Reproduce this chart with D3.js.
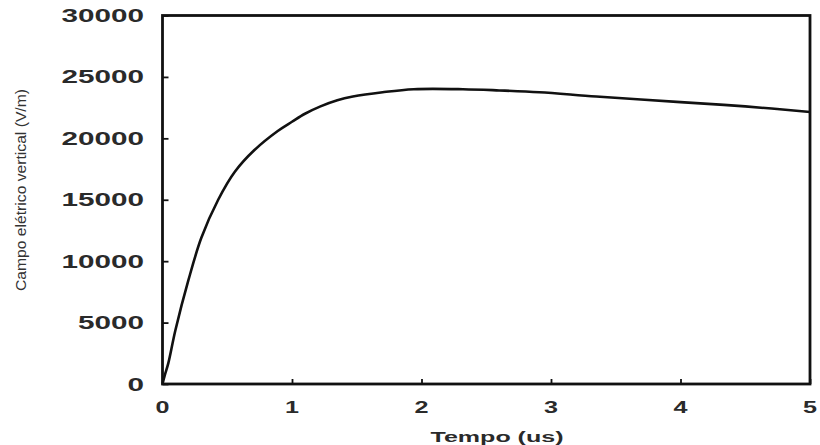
<!DOCTYPE html>
<html>
<head>
<meta charset="utf-8">
<script src="https://cdn.jsdelivr.net/npm/d3@7"></script>
<style>
    body { margin: 0; background: #fff; }
    .tickLabel { font-family: "Liberation Sans", Arial, sans-serif; font-weight: bold; fill: #2a2a2a; }
</style>
</head>
<body>
<div id="chart"></div>
<script>
// data
var tempo = [0, 0.02, 0.045, 0.1, 0.2, 0.3, 0.43, 0.56, 0.71, 0.89, 1.0, 1.1, 1.22, 1.35, 1.47, 1.7, 1.94, 2.32, 2.6, 2.91, 3.35, 4.0, 4.5, 5.0];
var campo = [0, 800, 1700, 4400, 8450, 11900, 15000, 17300, 19050, 20600, 21350, 22000, 22600, 23100, 23400, 23750, 24000, 24000, 23900, 23750, 23400, 22950, 22600, 22150];
var xTicks = [0, 1, 2, 3, 4, 5];
var yTicks = [0, 5000, 10000, 15000, 20000, 25000, 30000];
var xLabel = "Tempo (us)";
var yLabel = "Campo elétrico vertical (V/m)";

var chartWidth = 820, chartHeight = 445;
var plotLeft = 162.5, plotRight = 810, plotTop = 15.5, plotBottom = 384;

var svg = d3.select("#chart").append("svg")
    .attr("width", chartWidth)
    .attr("height", chartHeight);

// scales
var x_scale = d3.scaleLinear().domain([0, 5]).range([plotLeft, plotRight]);
var y_scale = d3.scaleLinear().domain([0, 30000]).range([plotBottom, plotTop]);

// inner ticks
svg.append("g")
    .attr("transform", "translate(" + plotLeft + ",0)")
    .call(d3.axisRight(y_scale).tickValues(yTicks).tickSize(6).tickFormat(""))
    .call(g => g.select(".domain").remove())
    .selectAll("line").attr("stroke", "#111").attr("stroke-width", 1.8);
svg.append("g")
    .attr("transform", "translate(0," + plotBottom + ")")
    .call(d3.axisTop(x_scale).tickValues(xTicks).tickSize(5).tickFormat(""))
    .call(g => g.select(".domain").remove())
    .selectAll("line").attr("stroke", "#111").attr("stroke-width", 1.8);

// tick labels (wide font, stretched)
svg.selectAll(".yLab")
    .data(yTicks).enter()
    .append("text")
    .attr("class", "tickLabel")
    .attr("x", 144)
    .attr("y", d => y_scale(d) + 6.5)
    .attr("text-anchor", "end")
    .attr("font-size", 18)
    .attr("textLength", d => String(d).length * 16.5)
    .attr("lengthAdjust", "spacingAndGlyphs")
    .text(d => d);

svg.selectAll(".xLab")
    .data(xTicks).enter()
    .append("text")
    .attr("class", "tickLabel")
    .attr("x", d => x_scale(d))
    .attr("y", 413)
    .attr("text-anchor", "middle")
    .attr("font-size", 17)
    .attr("textLength", 14)
    .attr("lengthAdjust", "spacingAndGlyphs")
    .text(d => d);

// axis titles
svg.append("text")
    .attr("class", "tickLabel")
    .attr("x", 497)
    .attr("y", 442)
    .attr("text-anchor", "middle")
    .attr("font-size", 14)
    .attr("textLength", 133)
    .attr("lengthAdjust", "spacingAndGlyphs")
    .text(xLabel);

svg.append("text")
    .attr("transform", "translate(26,190) rotate(-90)")
    .attr("text-anchor", "middle")
    .attr("font-family", "'Liberation Sans Narrow', 'Liberation Sans', Arial, sans-serif")
    .attr("font-size", 15)
    .attr("fill", "#333")
    .attr("textLength", 202)
    .attr("lengthAdjust", "spacingAndGlyphs")
    .text(yLabel);

// curve
var line = d3.line()
    .x(d => x_scale(d[0]))
    .y(d => y_scale(d[1]))
    .curve(d3.curveCatmullRom);
svg.append("path")
    .datum(d3.zip(tempo, campo))
    .attr("d", line)
    .attr("fill", "none")
    .attr("stroke", "#111")
    .attr("stroke-width", 2.6);

// frame
svg.append("rect")
    .attr("x", plotLeft)
    .attr("y", plotTop)
    .attr("width", plotRight - plotLeft)
    .attr("height", plotBottom - plotTop)
    .attr("fill", "none")
    .attr("stroke", "#111")
    .attr("stroke-width", 2.8);
</script>
</body>
</html>
